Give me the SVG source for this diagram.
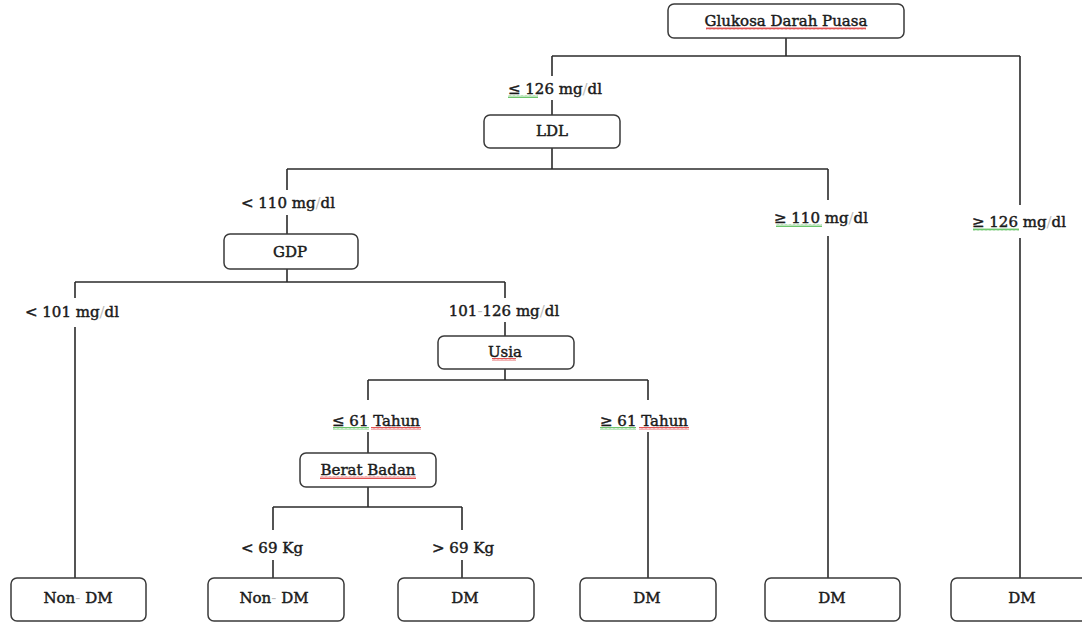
<svg xmlns="http://www.w3.org/2000/svg" width="1082" height="623" viewBox="0 0 1082 623">
<defs>
<style>
.box{fill:#fff;stroke:#3a3a3a;stroke-width:1.5}
.ln{stroke:#2b2b2b;stroke-width:1.6;fill:none}
.t{font-family:'DejaVu Serif','Liberation Serif',serif;font-size:15px;fill:#1a1a1a;text-anchor:middle;stroke:#1a1a1a;stroke-width:0.45}
.f{fill:#bbb;stroke:none}
.sqr{fill:url(#red)}
.sqg{fill:url(#green)}
</style>
<pattern id="red" width="4" height="3" patternUnits="userSpaceOnUse"><path d="M0 2.5 L1 0.5 L2 2.5 L3 0.5 L4 2.5" stroke="#e04040" stroke-width="0.9" fill="none"/></pattern>
<pattern id="green" width="4" height="3" patternUnits="userSpaceOnUse"><path d="M0 2.5 L1 0.5 L2 2.5 L3 0.5 L4 2.5" stroke="#5cc05c" stroke-width="0.9" fill="none"/></pattern>
</defs>
<rect width="1082" height="623" fill="#fff"/>

<g id="connectors">
<path class="ln" d="M786 38V56M552 56H1020M552 56V76M552 100V115"/>
<path class="ln" d="M552 148V169M287 169H828M287 169V190M287 215V234M828 169V200M828 236V578"/>
<path class="ln" d="M1020 56V205M1020 238V578"/>
<path class="ln" d="M287 269V282M75 282H505M75 282V298M75 327V578M505 282V298M505 322V336"/>
<path class="ln" d="M505 369V380M368 380H648M368 380V400M368 432V453M648 380V400M648 432V578"/>
<path class="ln" d="M368 487V507M273 507H462M273 507V530M273 560V578M462 507V530M462 560V578"/>
</g>

<g id="labels">
<rect class="sqg" x="508" y="95" width="30" height="3"/>
<text class="t" x="555" y="94">≤ 126 mg<tspan class="f">/</tspan>dl</text>
<text class="t" x="288" y="208">&lt; 110 mg<tspan class="f">/</tspan>dl</text>
<rect class="sqg" x="776" y="224" width="46" height="3"/>
<text class="t" x="821" y="223">≥ 110 mg<tspan class="f">/</tspan>dl</text>
<rect class="sqg" x="973" y="228" width="46" height="3"/>
<text class="t" x="1019" y="227">≥ 126 mg<tspan class="f">/</tspan>dl</text>
<text class="t" x="72" y="317">&lt; 101 mg<tspan class="f">/</tspan>dl</text>
<text class="t" x="504" y="316">101<tspan class="f">-</tspan>126 mg<tspan class="f">/</tspan>dl</text>
<rect class="sqg" x="333" y="427" width="36" height="3"/>
<rect class="sqr" x="371" y="427" width="50" height="3"/>
<text class="t" x="376" y="426">≤ 61 Tahun</text>
<rect class="sqg" x="600" y="427" width="36" height="3"/>
<rect class="sqr" x="639" y="427" width="50" height="3"/>
<text class="t" x="644" y="426">≥ 61 Tahun</text>
<text class="t" x="272" y="553">&lt; 69 Kg</text>
<text class="t" x="463" y="553">&gt; 69 Kg</text>
</g>

<g id="n-root">
<rect class="box" x="668" y="4" width="236" height="34" rx="6"/>
<rect class="sqr" x="706" y="27" width="160" height="3"/>
<text class="t" x="786" y="26">Glukosa Darah Puasa</text>
</g>
<g id="n-ldl">
<rect class="box" x="484" y="115" width="136" height="33" rx="6"/>
<text class="t" x="552" y="136">LDL</text>
</g>
<g id="n-gdp">
<rect class="box" x="224" y="234" width="134" height="35" rx="6"/>
<text class="t" x="290" y="257">GDP</text>
</g>
<g id="n-usia">
<rect class="box" x="438" y="336" width="136" height="33" rx="6"/>
<rect class="sqr" x="492" y="358" width="24" height="3"/>
<text class="t" x="505" y="357">Usia</text>
</g>
<g id="n-bb">
<rect class="box" x="300" y="453" width="136" height="34" rx="6"/>
<rect class="sqr" x="320" y="476" width="96" height="3"/>
<text class="t" x="368" y="475">Berat Badan</text>
</g>
<g id="n-leaf1">
<rect class="box" x="11" y="578" width="135" height="43" rx="6"/>
<text class="t" x="78" y="603">Non<tspan class="f">-</tspan> DM</text>
</g>
<g id="n-leaf2">
<rect class="box" x="208" y="578" width="136" height="43" rx="6"/>
<text class="t" x="274" y="603">Non<tspan class="f">-</tspan> DM</text>
</g>
<g id="n-leaf3">
<rect class="box" x="398" y="578" width="136" height="43" rx="6"/>
<text class="t" x="465" y="603">DM</text>
</g>
<g id="n-leaf4">
<rect class="box" x="580" y="578" width="136" height="43" rx="6"/>
<text class="t" x="647" y="603">DM</text>
</g>
<g id="n-leaf5">
<rect class="box" x="765" y="578" width="135" height="43" rx="6"/>
<text class="t" x="832" y="603">DM</text>
</g>
<g id="n-leaf6">
<rect class="box" x="951" y="578" width="140" height="43" rx="6"/>
<text class="t" x="1022" y="603">DM</text>
</g>
</svg>
